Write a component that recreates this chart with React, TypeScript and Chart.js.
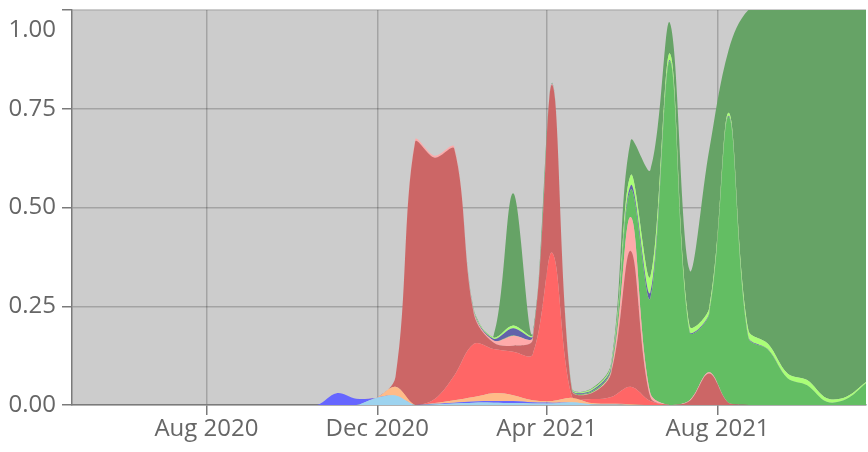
import React, { useEffect, useRef } from 'react';
import { Chart, registerables } from 'chart.js';

Chart.register(...registerables);

// biweekly sample dates
const dates = [
  '2020-09-07', '2020-09-21', '2020-10-05', '2020-10-19', '2020-11-02', '2020-11-16',
  '2020-11-30', '2020-12-14', '2020-12-28', '2021-01-11', '2021-01-25', '2021-02-08',
  '2021-02-22', '2021-03-08', '2021-03-22', '2021-04-05', '2021-04-19', '2021-05-03',
  '2021-05-17', '2021-05-31', '2021-06-14', '2021-06-28', '2021-07-12', '2021-07-26',
  '2021-08-09', '2021-08-23', '2021-09-06', '2021-09-20', '2021-10-04', '2021-10-18',
  '2021-11-01', '2021-11-15',
];

// stacked series, bottom to top
const lightBlue = [0, 0, 0, 0, 0, 0, 0.018, 0.024, 0, 0.002, 0.004, 0.006, 0.006, 0.005, 0.004, 0.004, 0.007, 0.002, 0.001, 0, 0, 0, 0, 0, 0, 0, 0, 0, 0, 0, 0, 0];
const blue = [0, 0, 0, 0, 0.03, 0.016, 0, 0, 0, 0.001, 0.002, 0.003, 0.004, 0.005, 0.003, 0.002, 0, 0, 0, 0, 0, 0, 0, 0, 0, 0, 0, 0, 0, 0, 0, 0];
const lightOrange = [0, 0, 0, 0, 0, 0, 0, 0.022, 0, 0.002, 0.006, 0.011, 0.02, 0.015, 0.005, 0.004, 0.011, 0.003, 0.002, 0.002, 0, 0, 0, 0, 0, 0, 0, 0, 0, 0, 0, 0];
const red = [0, 0, 0, 0, 0, 0, 0, 0, 0, 0.01, 0.063, 0.135, 0.112, 0.11, 0.116, 0.375, 0.004, 0.01, 0.017, 0.044, 0.01, 0, 0, 0, 0, 0, 0, 0, 0, 0, 0, 0];
const darkRed = [0, 0, 0, 0, 0, 0, 0, 0.025, 0.665, 0.611, 0.573, 0.075, 0.016, 0.015, 0.037, 0.425, 0.014, 0.015, 0.06, 0.344, 0.01, 0, 0.01, 0.08, 0.005, 0, 0, 0, 0, 0, 0, 0];
const pink = [0, 0, 0, 0, 0, 0, 0, 0, 0.006, 0.005, 0.005, 0.004, 0.005, 0.025, 0.005, 0.002, 0.001, 0.001, 0.005, 0.086, 0.01, 0, 0.002, 0.003, 0, 0, 0, 0, 0, 0, 0, 0];
const green = [0, 0, 0, 0, 0, 0, 0, 0, 0, 0, 0, 0, 0, 0.001, 0, 0, 0.001, 0.003, 0.005, 0.069, 0.24, 0.87, 0.173, 0.147, 0.725, 0.17, 0.14, 0.068, 0.05, 0.008, 0.015, 0.055];
const slate = [0, 0, 0, 0, 0, 0, 0, 0, 0, 0, 0, 0.003, 0.005, 0.018, 0.005, 0.001, 0.002, 0.003, 0.005, 0.011, 0.015, 0.003, 0.002, 0.002, 0.002, 0.002, 0.001, 0, 0, 0, 0, 0];
const lightGreen = [0, 0, 0, 0, 0, 0, 0, 0, 0, 0, 0, 0.002, 0.003, 0.007, 0.003, 0.001, 0.002, 0.003, 0.005, 0.026, 0.04, 0.017, 0.013, 0.013, 0.008, 0.018, 0.014, 0.012, 0.013, 0.009, 0.006, 0.003];
const darkGreen = [0, 0, 0, 0, 0, 0, 0, 0, 0, 0, 0, 0.002, 0.004, 0.335, 0.002, 0.001, 0.001, 0.002, 0.005, 0.088, 0.27, 0.077, 0.142, 0.4, 0.16, 0.81, 0.845, 0.92, 0.937, 0.983, 0.979, 0.942];

const seriesNames = ['lightBlue', 'blue', 'lightOrange', 'red', 'darkRed', 'pink', 'green', 'slate', 'lightGreen', 'darkGreen'];
const seriesValues = [lightBlue, blue, lightOrange, red, darkRed, pink, green, slate, lightGreen, darkGreen];
const seriesColors = ['#9dd3ef', '#6666ff', '#ffbb88', '#ff6666', '#cc6666', '#ffaaaa', '#63be63', '#6262aa', '#aaff77', '#66a366'];

const xMinDate = '2020-04-27';
const xMaxDate = '2021-11-15';
const xTickDates = ['2020-08-01', '2020-12-01', '2021-04-01', '2021-08-01'];
const xTickLabels = ['Aug 2020', 'Dec 2020', 'Apr 2021', 'Aug 2021'];
const yTickValues = [0, 0.25, 0.5, 0.75, 1];
const yTickLabels = ['0.00', '0.25', '0.50', '0.75', '1.00'];

const toTime = (s: string) => {
  const [y, m, d] = s.split('-').map(Number);
  return Date.UTC(y, m - 1, d);
};

const FONT = "'Open Sans', sans-serif";
const TEXT_COLOR = '#666666';
const AXIS_COLOR = '#7a7a7a';
const GRID_COLOR = 'rgba(0,0,0,0.2)';

export default function App() {
  const ref = useRef<HTMLCanvasElement | null>(null);

  useEffect(() => {
    document.body.style.margin = '0';
    const canvas = ref.current;
    if (!canvas) return;

    const bgPlugin = {
      id: 'plotBg',
      beforeDraw(chart: any) {
        const { ctx, chartArea } = chart;
        ctx.save();
        ctx.fillStyle = '#cccccc';
        ctx.fillRect(chartArea.left, chartArea.top, chartArea.right - chartArea.left, chartArea.bottom - chartArea.top);
        ctx.restore();
      },
    };

    const yLabelPlugin = {
      id: 'yLabels',
      afterDraw(chart: any) {
        const { ctx, chartArea } = chart;
        const scale = chart.scales.y;
        ctx.save();
        ctx.font = `24px ${FONT}`;
        ctx.fillStyle = TEXT_COLOR;
        ctx.textAlign = 'right';
        ctx.textBaseline = 'middle';
        yTickValues.forEach((v, i) => {
          const py = Math.max(scale.getPixelForValue(v), chartArea.top + 20);
          ctx.fillText(yTickLabels[i], scale.right - 16, py);
        });
        ctx.restore();
      },
    };

    const chart = new Chart(canvas, {
      type: 'line',
      data: {
        labels: dates.map(toTime),
        datasets: seriesValues.map((vals, i) => ({
          label: seriesNames[i],
          data: vals,
          backgroundColor: seriesColors[i],
          borderColor: seriesColors[i],
          borderWidth: 0,
          pointRadius: 0,
          tension: 0.35,
          fill: i === 0 ? 'origin' : '-1',
        })),
      },
      options: {
        responsive: false,
        animation: false,
        devicePixelRatio: 1,
        layout: { padding: { top: 10, right: 2, left: 0, bottom: 0 } },
        plugins: { legend: { display: false }, tooltip: { enabled: false } },
        scales: {
          x: {
            type: 'linear',
            min: toTime(xMinDate),
            max: toTime(xMaxDate),
            z: 1,
            grid: { color: GRID_COLOR, lineWidth: 1.5, drawTicks: true, tickLength: 10, tickColor: AXIS_COLOR, tickWidth: 1.5 },
            border: { color: AXIS_COLOR, width: 1.5 },
            ticks: {
              font: { family: FONT, size: 24 },
              color: TEXT_COLOR,
              padding: 0,
              maxRotation: 0,
              autoSkip: false,
              callback: (value: any) => {
                const idx = xTickDates.findIndex((d) => toTime(d) === Number(value));
                return idx >= 0 ? xTickLabels[idx] : '';
              },
            },
            afterBuildTicks: (scale: any) => {
              scale.ticks = xTickDates.map((d) => ({ value: toTime(d) }));
            },
            afterFit: (scale: any) => {
              scale.height = 47;
            },
          },
          y: {
            stacked: true,
            min: 0,
            max: 1,
            z: 1,
            grid: { color: GRID_COLOR, lineWidth: 1.5, drawTicks: true, tickLength: 10, tickColor: AXIS_COLOR, tickWidth: 1.5 },
            border: { color: AXIS_COLOR, width: 1.5 },
            ticks: { display: false },
            afterBuildTicks: (scale: any) => {
              scale.ticks = yTickValues.map((v) => ({ value: v }));
            },
            afterFit: (scale: any) => {
              scale.width = 72;
            },
          },
        },
      } as any,
      plugins: [bgPlugin, yLabelPlugin],
    });

    return () => chart.destroy();
  }, []);

  return <canvas ref={ref} width={868} height={452} style={{ display: 'block' }} />;
}
